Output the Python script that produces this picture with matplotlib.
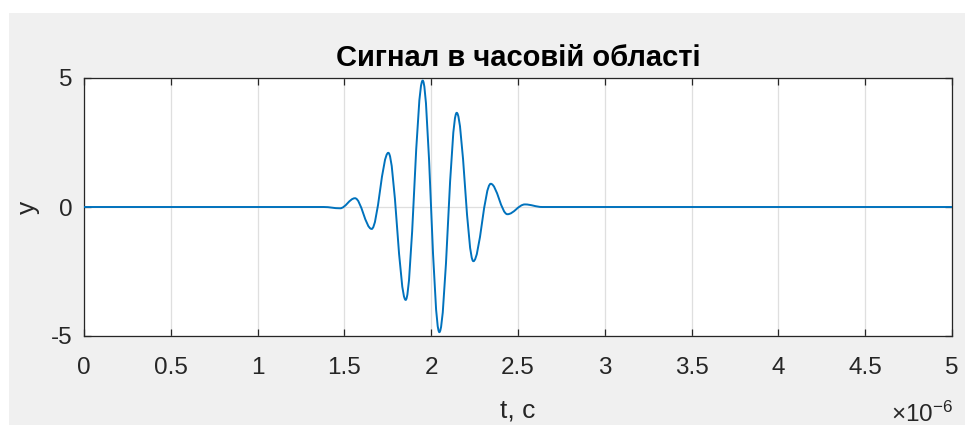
import matplotlib
matplotlib.use("Agg")
import matplotlib.pyplot as plt
from matplotlib.path import Path
from matplotlib.patches import PathPatch, Rectangle
from matplotlib.ticker import FuncFormatter

# екстремуми сигналу (час у мкс, амплітуда)
t_ext = [0.0, 1.38, 1.475, 1.561, 1.657, 1.753, 1.853, 1.951, 2.047, 2.147, 2.243, 2.343, 2.439, 2.540, 2.64, 5.0]
y_ext = [0.0, 0.0, -0.05, 0.34, -0.85, 2.10, -3.60, 4.90, -4.85, 3.65, -2.10, 0.90, -0.28, 0.10, 0.0, 0.0]
x_ticks = [0, 0.5, 1, 1.5, 2, 2.5, 3, 3.5, 4, 4.5, 5]
y_ticks = [-5, 0, 5]

plt.rcParams['font.family'] = ['Liberation Sans', 'DejaVu Sans']

W, H = 969, 425
fig = plt.figure(figsize=(W / 100, H / 100), dpi=100)
fig.patch.set_facecolor('white')
fig.patches.append(Rectangle((9 / W, 0), 956 / W, 1 - 13 / H, transform=fig.transFigure,
                             facecolor='#f0f0f0', edgecolor='none', zorder=-10))

ax = fig.add_axes([84 / W, 89 / H, 868 / W, 258 / H])
ax.set_facecolor('white')

# крива: кубічні сегменти Безьє між екстремумами (горизонтальні дотичні)
ts = [v * 1e-6 for v in t_ext]
verts = [(ts[0], y_ext[0]), (ts[1], y_ext[1])]
codes = [Path.MOVETO, Path.LINETO]
k = 0.363
for i in range(1, len(ts) - 2):
    d = ts[i + 1] - ts[i]
    verts += [(ts[i] + k * d, y_ext[i]), (ts[i + 1] - k * d, y_ext[i + 1]), (ts[i + 1], y_ext[i + 1])]
    codes += [Path.CURVE4] * 3
verts.append((ts[-1], y_ext[-1]))
codes.append(Path.LINETO)
ax.add_patch(PathPatch(Path(verts, codes), fill=False, edgecolor='#0072BD', lw=1.4, zorder=3))

ax.set_xlim(0, 5e-6)
ax.set_ylim(-5, 5)
ax.set_xticks([v * 1e-6 for v in x_ticks])
ax.xaxis.set_major_formatter(FuncFormatter(lambda v, p: '%g' % round(v * 1e6, 3)))
ax.set_yticks(y_ticks)
ax.yaxis.set_major_formatter(FuncFormatter(lambda v, p: '%g' % v))
ax.grid(True, color='#dfdfdf', lw=0.9)
ax.set_axisbelow(True)
ax.tick_params(direction='in', length=5, width=0.9, colors='#262626', labelsize=17.5,
               top=True, right=True)
ax.tick_params(axis='x', pad=15)
ax.tick_params(axis='y', pad=8.5)
for s in ax.spines.values():
    s.set_color('#262626')
    s.set_linewidth(0.9)

ax.set_title('Сигнал в часовій області', fontsize=21, fontweight='bold', color='black', pad=8.7)
ax.set_xlabel('t, c', fontsize=19, color='#262626')
ax.xaxis.set_label_coords(0.5, -0.244)
ax.set_ylabel('y', fontsize=19, color='#262626')
ax.yaxis.set_label_coords(-0.051, 0.5)
ax.text(1.001, -0.333, r'$\mathregular{\times10^{-6}}$', transform=ax.transAxes,
        ha='right', va='baseline', fontsize=17.5, color='#262626')

fig.savefig('out.png', dpi=100, facecolor=fig.get_facecolor())
